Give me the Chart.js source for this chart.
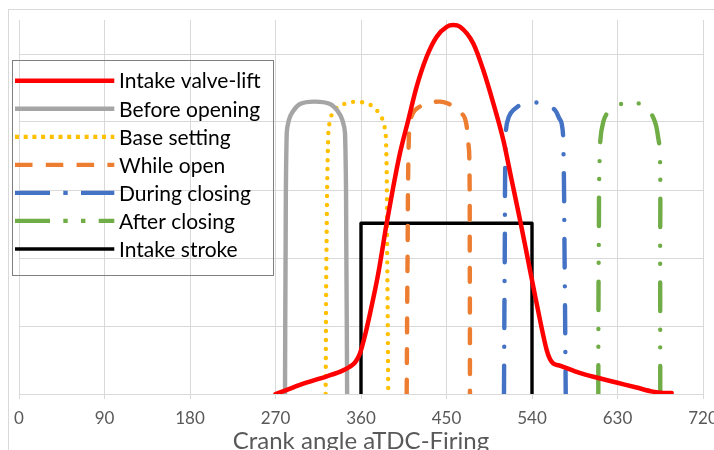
<!DOCTYPE html>
<html><head><meta charset="utf-8">
<script src="https://cdn.jsdelivr.net/npm/chart.js@4"></script>
<style>
html,body{margin:0;padding:0;background:#fff;overflow:hidden}
#wrap{width:714px;height:450px;overflow:hidden;position:relative;background:#fff}
canvas{display:block}
</style></head><body>
<div id="wrap"><canvas id="c" width="730" height="460" style="width:730px;height:460px"></canvas></div>
<script>
// ---- data ----
const seriesNames = ['Intake valve-lift','Before opening','Base setting','While open','During closing','After closing','Intake stroke'];
const xTickValues = [0,90,180,270,360,450,540,630,720];
const xTitle = 'Crank angle aTDC-Firing';

const intakeLift = [[270,0],[280,0.1],[300,0.31],[324,0.52],[340,0.68],[348,0.8],[352,0.88],[355,0.98],[359,1.2],[364,1.7],[369.5,2.37],[378.2,3.55],[387,5.02],[394,6.1],[401,7.08],[409.8,8.06],[418.6,9.04],[429.1,9.92],[439.7,10.51],[450.2,10.8],[457,10.85],[464.2,10.8],[478.2,10.31],[488.7,9.53],[499.3,8.55],[509.8,7.47],[518.6,6.29],[527.4,5.12],[534.4,4.14],[541.4,3.15],[548.4,2.18],[555.4,1.3],[559,1.02],[562.4,0.9],[570,0.83],[590,0.62],[610,0.47],[630,0.33],[650,0.19],[667,0.07],[675,0.04],[687,0.03]];
const beforeOpening = [[280,0],[280.6,4],[281.8,7.67],[284,8.05],[287.1,8.26],[295.8,8.53],[311.6,8.6],[327.4,8.53],[336,8.3],[340.5,8.05],[343.2,7.67],[344.6,4],[345.4,0]];
const baseSetting = [[322.8,0],[323.6,4],[325.6,7.67],[327.8,8.08],[330.8,8.3],[337,8.47],[344.9,8.55],[355.5,8.6],[365,8.55],[372.9,8.45],[379,8.25],[383.5,8.01],[386.3,7.47],[387.6,4],[388.7,0]];
const whileOpen = [[408.1,0],[409,4],[410.5,7.67],[413,8.15],[416.8,8.35],[425.6,8.5],[434,8.57],[443.2,8.6],[451,8.55],[457.2,8.45],[464,8.3],[469.5,8.1],[472.5,7.5],[474,6.98],[474.5,4],[474.7,0]];
const duringClosing = [[510.5,0],[511.3,4],[512.6,7.76],[515.5,8.15],[520.3,8.35],[530.8,8.53],[547.7,8.57],[557,8.48],[564.2,8.35],[568.5,8.12],[571.2,7.96],[572.9,7.47],[574.3,4],[575.5,0]];
const afterClosing = [[609.8,0],[609.9,2],[610.3,4.33],[611.6,7.27],[615,8.0],[622.1,8.35],[636.1,8.55],[648.4,8.57],[656,8.5],[662.4,8.37],[669.5,8.0],[672.5,7.6],[674.7,7.08],[674.9,4],[675,0]];
const intakeStroke = [[360,0],[360,5.02],[540,5.02],[540,0]];

const toXY = arr => arr.map(p => ({x:p[0], y:p[1]}));

const datasets = [
  {label:seriesNames[0], data:toXY(intakeLift), borderColor:'#ff0000', borderWidth:4.5, cubicInterpolationMode:'monotone', borderDash:[], borderCapStyle:'round', legendDash:[], legendWidth:4.4},
  {label:seriesNames[1], data:toXY(beforeOpening), borderColor:'#a5a5a5', borderWidth:4.4, tension:0.4, borderDash:[], borderCapStyle:'round', legendDash:[], legendWidth:4.4},
  {label:seriesNames[2], data:toXY(baseSetting), borderColor:'#ffc000', borderWidth:4.4, tension:0.4, borderDash:[0,9], borderCapStyle:'round', legendDash:[4,4.7], legendWidth:4.2},
  {label:seriesNames[3], data:toXY(whileOpen), borderColor:'#ed7d31', borderWidth:4.4, tension:0.4, borderDash:[14,16.8], borderCapStyle:'round', legendDash:[17.5,13.3], legendWidth:4.2},
  {label:seriesNames[4], data:toXY(duringClosing), borderColor:'#4472c4', borderWidth:4.4, tension:0.4, borderDash:[28.2,18.9,0,18.9], borderCapStyle:'round', legendDash:[35,13.3,4.4,13.3], legendWidth:4.2},
  {label:seriesNames[5], data:toXY(afterClosing), borderColor:'#70ad47', borderWidth:4.4, tension:0.4, borderDash:[28.6,18.8,0,17.7,0,18.8], borderCapStyle:'round', legendDash:[35,13.3,4.4,13.3,4.4,13.3], legendWidth:4.2},
  {label:seriesNames[6], data:toXY(intakeStroke), borderColor:'#000000', borderWidth:3.4, tension:0, borderDash:[], borderCapStyle:'butt', legendDash:[], legendWidth:3.6}
];
datasets.forEach(d => { d.pointRadius = 0; d.fill = false; d.borderJoinStyle = 'round'; });

const frame = {
  id:'frame',
  beforeDraw(chart){
    const ctx = chart.ctx; ctx.save();
    ctx.fillStyle = '#fff'; ctx.fillRect(0,0,chart.width,chart.height);
    ctx.strokeStyle = '#d9d9d9'; ctx.lineWidth = 1;
    ctx.strokeRect(8.5, 9.5, 900, 900);
    ctx.restore();
  }
};
const boxLegend = {
  id:'boxLegend',
  afterDraw(chart){
    const ctx = chart.ctx; ctx.save();
    ctx.strokeStyle = '#7f7f7f'; ctx.lineWidth = 1; ctx.setLineDash([]);
    ctx.strokeRect(12.5, 60.5, 261, 215);
    ctx.font = '21px Lato'; ctx.textBaseline = 'middle'; ctx.textAlign = 'left';
    chart.data.datasets.forEach((ds, i) => {
      const y = 80.7 + i * 28.05;
      ctx.beginPath();
      ctx.strokeStyle = ds.borderColor; ctx.lineWidth = ds.legendWidth;
      ctx.setLineDash(ds.legendDash); ctx.lineCap = 'butt';
      ctx.moveTo(15, y); ctx.lineTo(114.3, y); ctx.stroke();
      ctx.setLineDash([]);
      ctx.fillStyle = '#000';
      ctx.fillText(ds.label, 119, y + 1);
    });
    ctx.restore();
  }
};

function build(){
  new Chart(document.getElementById('c'), {
    type:'line',
    data:{datasets},
    plugins:[frame, boxLegend],
    options:{
      responsive:false, animation:false, devicePixelRatio:1,
      layout:{padding:{left:19, right:27, top:20, bottom:4}},
      plugins:{legend:{display:false}, tooltip:{enabled:false}},
      scales:{
        x:{
          type:'linear', min:0, max:720,
          afterBuildTicks: s => { s.ticks = xTickValues.map(v => ({value:v})); },
          afterFit: s => { s.height = 62; },
          ticks:{color:'#595959', font:{family:'Lato', size:17}, padding:9, maxRotation:0, autoSkip:false},
          grid:{color:'#d9d9d9', lineWidth:1, tickLength:5, drawTicks:true},
          border:{display:true, color:'#d9d9d9', width:1},
          title:{display:true, text:xTitle, color:'#595959', font:{family:'Lato', size:24}, padding:{top:0,bottom:0}}
        },
        y:{
          type:'linear', min:0, max:11,
          ticks:{display:false, stepSize:2},
          afterFit: s => { s.width = 0; },
          grid:{color: c => (c.tick && c.tick.value > 10) ? 'rgba(0,0,0,0)' : '#d9d9d9', lineWidth:1, drawTicks:false},
          border:{display:false}
        }
      }
    }
  });
}
if (document.fonts && document.fonts.load) {
  Promise.all([document.fonts.load('21px Lato'), document.fonts.load('24px Lato')]).then(build, build);
} else build();
</script>
</body></html>
